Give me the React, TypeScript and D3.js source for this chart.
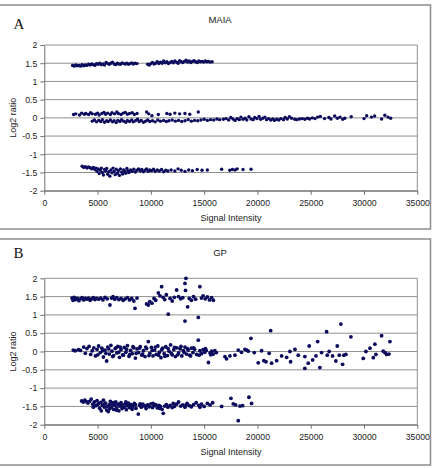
import React, { useEffect, useRef } from 'react';
import * as d3 from 'd3';

// axis ticks
const xTicks = [0, 5000, 10000, 15000, 20000, 25000, 30000, 35000];
const yTicks = [-2, -1.5, -1, -0.5, 0, 0.5, 1, 1.5, 2];

// MAIA: [signal intensity, log2 ratio]
const maiaHigh = [
  [2650, 1.44], [2800, 1.42], [2950, 1.45], [3100, 1.43], [3250, 1.44], [3400, 1.42], [3550, 1.46], [3700, 1.43],
  [3850, 1.45], [4000, 1.44], [4150, 1.47], [4300, 1.45], [4450, 1.48], [4600, 1.46], [4750, 1.44], [4900, 1.49],
  [5050, 1.47], [5200, 1.5], [5350, 1.46], [5500, 1.48], [5650, 1.45], [5800, 1.52], [5950, 1.49], [6100, 1.47],
  [6250, 1.5], [6400, 1.53], [6550, 1.48], [6700, 1.46], [6850, 1.5], [7000, 1.48], [7150, 1.47], [7300, 1.51],
  [7450, 1.49], [7600, 1.48], [7750, 1.5], [7900, 1.47], [8050, 1.49], [8200, 1.51], [8350, 1.48], [8500, 1.5],
  [8700, 1.49], [9700, 1.47], [9850, 1.45], [10000, 1.49], [10150, 1.52], [10300, 1.48], [10450, 1.5], [10600, 1.54],
  [10750, 1.49], [10900, 1.53], [11050, 1.5], [11200, 1.56], [11350, 1.51], [11500, 1.54], [11650, 1.49], [11800, 1.52],
  [11950, 1.55], [12100, 1.51], [12250, 1.56], [12400, 1.53], [12550, 1.5], [12700, 1.57], [12850, 1.54], [13000, 1.52],
  [13150, 1.55], [13300, 1.58], [13450, 1.53], [13600, 1.56], [13750, 1.52], [13900, 1.55], [14050, 1.57], [14200, 1.54],
  [14350, 1.52], [14500, 1.56], [14650, 1.54], [14800, 1.55], [14950, 1.53], [15100, 1.56], [15250, 1.54], [15400, 1.55],
  [15550, 1.53], [15750, 1.54],
];

const maiaMid = [
  [2750, 0.09], [2950, 0.11], [3300, 0.08], [3500, 0.13], [3750, 0.1], [3900, 0.12], [4150, 0.09], [4350, 0.14],
  [4500, 0.11], [4800, 0.1], [5000, 0.13], [5150, 0.08], [5400, 0.12], [5600, 0.15], [5750, 0.1], [5950, 0.13],
  [6200, 0.09], [6350, 0.14], [6600, 0.11], [6800, 0.16], [6950, 0.12], [7200, 0.09], [7400, 0.13], [7600, 0.15],
  [7800, 0.1], [8000, 0.12], [8250, 0.14], [8450, 0.09], [8700, 0.12], [9600, 0.16], [9800, 0.11], [10100, 0.06],
  [10700, 0.09], [11500, 0.12], [11800, 0.1], [12250, 0.13], [12700, 0.11], [13200, 0.12], [13650, 0.1], [14450, 0.16],
  [4500, -0.09], [4700, -0.06], [4900, -0.11], [5100, -0.07], [5300, -0.1], [5450, -0.05], [5650, -0.12], [5850, -0.08],
  [6000, -0.1], [6200, -0.06], [6400, -0.11], [6550, -0.08], [6750, -0.13], [6900, -0.07], [7100, -0.1], [7250, -0.05],
  [7450, -0.09], [7650, -0.12], [7800, -0.07], [8000, -0.1], [8200, -0.06], [8350, -0.11], [8550, -0.08], [8750, -0.04],
  [8900, -0.1], [9100, -0.07], [9300, -0.12], [9500, -0.09], [9700, -0.06], [9900, -0.1], [10150, -0.08], [10400, -0.11],
  [10650, -0.06], [10900, -0.09], [11200, -0.07], [11450, -0.1], [11700, -0.08], [12000, -0.06], [12300, -0.09], [12600, -0.07],
  [12900, -0.1], [13200, -0.08], [13500, -0.05], [13800, -0.09], [14100, -0.07], [14400, -0.08], [14700, -0.06], [15000, -0.04],
  [15300, -0.07], [15600, -0.05], [15900, -0.06], [16200, -0.03], [16450, -0.05],
  [16800, -0.04], [17050, -0.02], [17300, -0.06], [17500, 0.01], [17700, -0.03], [17900, -0.07], [18100, -0.02], [18300, -0.05],
  [18450, 0.02], [18650, -0.04], [18850, -0.01], [19000, -0.06], [19200, 0.03], [19400, -0.03], [19600, -0.05], [19750, 0.01],
  [19950, -0.02], [20150, 0.04], [20300, -0.04], [20500, -0.01], [20700, 0.02], [20850, -0.05], [21050, -0.02], [21250, -0.06],
  [21450, -0.03], [21600, -0.07], [21800, -0.04], [22000, -0.06], [22200, -0.02], [22450, -0.05], [22600, 0.01], [22800, -0.03],
  [23000, 0.03], [23200, -0.01], [23500, -0.04], [23700, -0.05], [23950, -0.03], [24200, -0.02], [24450, -0.04], [24700, -0.01],
  [24900, -0.03], [25150, 0], [25400, -0.02], [25650, 0.02], [25900, 0.04], [26300, -0.02], [26700, 0.01], [26900, -0.03],
  [27250, 0.05], [27500, -0.01], [27750, 0.02], [28000, -0.04], [28200, -0.01], [28800, 0.03], [30000, -0.02], [30250, 0.06],
  [30700, 0.02], [31000, 0.05], [31650, -0.03], [31950, 0.07], [32250, 0.02], [32500, -0.01],
];

const maiaLow = [
  [3550, -1.33], [3700, -1.36], [3850, -1.34], [4000, -1.38], [4150, -1.35], [4300, -1.37], [4450, -1.4], [4600, -1.36],
  [4750, -1.42], [4850, -1.38], [4950, -1.47], [5050, -1.4], [5150, -1.53], [5250, -1.44], [5350, -1.38], [5450, -1.5],
  [5550, -1.57], [5650, -1.42], [5750, -1.46], [5850, -1.39], [5950, -1.55], [6050, -1.48], [6150, -1.6], [6250, -1.43],
  [6350, -1.51], [6450, -1.38], [6550, -1.47], [6650, -1.56], [6750, -1.41], [6850, -1.52], [6950, -1.45], [7050, -1.58],
  [7150, -1.4], [7250, -1.49], [7350, -1.54], [7450, -1.43], [7550, -1.47], [7650, -1.52], [7750, -1.39], [7850, -1.46],
  [7950, -1.5], [8100, -1.43], [8250, -1.47], [8400, -1.41], [8550, -1.49], [8700, -1.44], [8850, -1.4], [9000, -1.46],
  [9150, -1.42], [9300, -1.48], [9450, -1.44], [9600, -1.4], [9750, -1.47], [9900, -1.43], [10050, -1.45], [10250, -1.41],
  [10400, -1.47], [10600, -1.43], [10800, -1.46], [11000, -1.42], [11200, -1.48], [11400, -1.44], [11600, -1.46], [11900, -1.43],
  [12250, -1.46], [12550, -1.4], [12850, -1.44], [13200, -1.47], [13550, -1.43], [13900, -1.45], [14350, -1.42], [14800, -1.44],
  [15300, -1.43], [16640, -1.41], [17400, -1.44], [17650, -1.42], [17900, -1.43], [18100, -1.4], [18650, -1.42], [19400, -1.41],
];

// GP
const gpHigh = [
  [2600, 1.46], [2700, 1.4], [2800, 1.48], [2950, 1.42], [3100, 1.45], [3250, 1.39], [3400, 1.44], [3550, 1.47],
  [3700, 1.41], [3850, 1.45], [4000, 1.43], [4150, 1.46], [4300, 1.4], [4450, 1.44], [4600, 1.47], [4750, 1.42],
  [4900, 1.45], [5100, 1.43], [5300, 1.46], [5500, 1.41], [5700, 1.48], [5900, 1.44], [6160, 1.27], [6300, 1.46],
  [6450, 1.5], [6600, 1.43], [6800, 1.47], [7000, 1.42], [7200, 1.45], [7400, 1.4], [7600, 1.44], [7800, 1.47],
  [8000, 1.41], [8200, 1.45], [8400, 1.38], [8510, 1.18], [8700, 1.46], [9600, 1.3], [9760, 1.27], [9900, 1.36],
  [10100, 1.32], [10300, 1.45], [10450, 1.4], [10700, 1.6], [10850, 1.52], [11010, 1.77], [11150, 1.48], [11300, 1.42],
  [11450, 1.55], [11630, 1.02], [11800, 1.45], [12000, 1.38], [12200, 1.48], [12420, 1.68], [12600, 1.5], [12800, 1.44],
  [13000, 1.47], [13200, 1.86], [13290, 2.0], [13200, 0.83], [13250, 1.67], [13450, 1.22], [13600, 1.45], [13800, 1.4],
  [14000, 1.5], [14200, 1.43], [14450, 0.93], [14600, 1.77], [14750, 1.46], [14900, 1.52], [15100, 1.44], [15300, 1.49],
  [15500, 1.41], [15700, 1.47], [15860, 1.4],
];

const gpMid = [
  [2720, 0.04], [2900, 0.02], [3200, 0.05], [3400, 0.03], [3700, 0.12], [3850, -0.05], [4000, 0.08], [4200, 0.14],
  [4350, -0.08], [4500, 0.02], [4650, 0.1], [4800, -0.12], [4950, 0.06], [5100, 0.15], [5250, -0.03], [5400, 0.09],
  [5550, -0.15], [5700, 0.04], [5850, -0.26], [5950, 0.12], [6100, -0.07], [6250, 0.17], [6350, 0.01], [6500, -0.11],
  [6650, 0.08], [6800, -0.04], [6900, 0.14], [7050, -0.16], [7200, 0.05], [7350, -0.09], [7500, 0.11], [7650, -0.02],
  [7800, 0.16], [7950, -0.13], [8100, 0.03], [8250, -0.06], [8400, 0.1], [8550, -0.18], [8700, 0.07], [8850, -0.03],
  [9000, 0.13], [9150, -0.1], [9300, 0.02], [9450, -0.14], [9600, 0.08], [9760, 0.27], [9900, -0.05], [10050, 0.11],
  [10200, -0.12], [10350, 0.04], [10500, -0.08], [10650, 0.15], [10800, -0.02], [10950, -0.17], [11100, 0.09], [11250, -0.06],
  [11400, 0.13], [11550, -0.11], [11700, 0.01], [11850, 0.18], [12000, -0.09], [12150, 0.05], [12300, -0.14], [12450, 0.1],
  [12600, -0.04], [12750, 0.07], [12900, -0.12], [13050, 0.02], [13200, 0.12], [13350, -0.07], [13500, 0.04], [13650, -0.1],
  [13800, 0.09], [13950, -0.03], [14100, 0.06], [14300, -0.08], [14450, 0.31], [14600, 0.02], [14750, -0.06], [14900, 0.05],
  [15050, -0.02], [15200, 0.03], [15400, -0.3], [15550, -0.04], [15700, 0.01], [15850, -0.07], [16000, 0.02], [16150, -0.03],
  [5020, -0.09], [5480, 0.02], [5780, -0.05], [6050, 0.07], [6420, -0.14], [6720, 0.1], [6980, -0.02], [7120, 0.12],
  [7420, -0.1], [7720, 0.06], [8020, -0.08], [8320, 0.13], [8620, -0.05], [8920, 0.09], [9220, -0.07], [9520, 0.12],
  [9820, -0.11], [10120, 0.03], [10420, 0.12], [10720, -0.1], [11020, 0.05], [11320, -0.13], [11620, 0.08], [11920, -0.05],
  [12220, 0.11], [12520, -0.09], [12820, 0.14], [13120, -0.03], [13420, 0.08], [13720, -0.12], [14020, 0.1], [14520, -0.1],
  [15120, 0.08], [15620, -0.09],
  [16950, -0.14], [17100, -0.2], [17420, -0.12], [17890, -0.1], [18200, 0.04], [18500, -0.02], [18830, 0.06], [18990, 0.04],
  [19140, 0.01], [19390, 0.36], [19700, -0.03], [20070, -0.31], [20390, 0.02], [20600, -0.25], [20800, -0.28], [21100, -0.05],
  [21240, 0.57], [21330, -0.32], [21800, -0.25], [22270, -0.12], [22740, -0.16], [23050, 0], [23110, -0.28], [23520, 0.06],
  [23830, -0.1], [24450, -0.14], [24450, -0.46], [24770, -0.32], [24860, 0.15], [25180, -0.23], [25490, -0.12], [25650, 0.27],
  [25860, -0.44], [26020, -0.03], [26490, 0.54], [26550, -0.1], [26730, 0], [27050, -0.12], [27360, -0.26], [27490, 0.15],
  [27680, -0.1], [27830, 0.75], [27990, -0.35], [28110, -0.1], [28300, -0.08], [28770, 0.4], [29930, -0.19], [30180, 0],
  [30560, 0.09], [30870, -0.17], [31020, 0.2], [31120, -0.08], [31650, 0.43], [31800, 0.01], [31960, -0.03], [32120, -0.08],
  [32340, -0.07], [32430, 0.27],
];

const gpLow = [
  [3500, -1.35], [3650, -1.38], [3800, -1.33], [3950, -1.37], [4100, -1.41], [4250, -1.36], [4400, -1.3], [4550, -1.44],
  [4700, -1.38], [4850, -1.48], [4950, -1.34], [5100, -1.42], [5200, -1.55], [5300, -1.39], [5450, -1.47], [5550, -1.33],
  [5650, -1.52], [5750, -1.41], [5850, -1.6], [6000, -1.64], [6100, -1.45], [6200, -1.36], [6300, -1.51], [6400, -1.42],
  [6500, -1.58], [6600, -1.47], [6700, -1.38], [6800, -1.54], [6900, -1.44], [7000, -1.62], [7100, -1.49], [7200, -1.4],
  [7300, -1.56], [7400, -1.46], [7500, -1.52], [7600, -1.43], [7700, -1.59], [7800, -1.48], [7900, -1.41], [8000, -1.53],
  [8150, -1.45], [8300, -1.5], [8450, -1.42], [8600, -1.55], [8820, -1.71], [8950, -1.47], [9100, -1.52], [9250, -1.44],
  [9400, -1.49], [9550, -1.56], [9700, -1.46], [9850, -1.51], [10000, -1.43], [10150, -1.53], [10300, -1.48], [10450, -1.45],
  [10600, -1.54], [10750, -1.47], [10900, -1.5], [11050, -1.58], [11160, -1.69], [11300, -1.49], [11450, -1.45], [11600, -1.52],
  [11800, -1.47], [12000, -1.53], [12200, -1.5], [12400, -1.44], [12600, -1.38], [12800, -1.49], [13000, -1.46], [13200, -1.52],
  [13400, -1.42], [13600, -1.48], [13800, -1.51], [14000, -1.45], [14250, -1.4], [14500, -1.47], [14750, -1.44], [15000, -1.5],
  [15300, -1.42], [15550, -1.46], [15800, -1.4], [16640, -1.5], [17510, -1.28], [17730, -1.43], [17950, -1.46], [18200, -1.89],
  [18360, -1.49], [18610, -1.48], [19200, -1.25], [19450, -1.42],
  [4600, -1.52], [5000, -1.46], [5350, -1.62], [5600, -1.44], [5900, -1.5], [6150, -1.56], [6450, -1.4], [6750, -1.6],
  [7050, -1.44], [7350, -1.5], [7650, -1.38], [7950, -1.46], [8250, -1.58], [8550, -1.45], [9000, -1.43], [9600, -1.48],
  [10200, -1.42], [10800, -1.55], [12100, -1.42], [13300, -1.46], [14600, -1.52],
];

const panels = [
  { letter: 'A', title: 'MAIA', frameTop: 5, frameBottom: 229, top: 45, bottom: 190.7, letterY: 29, titleY: 22.5, points: [maiaHigh, maiaMid, maiaLow], r: 1.7 },
  { letter: 'B', title: 'GP', frameTop: 239, frameBottom: 465, top: 278.3, bottom: 424.7, letterY: 258.3, titleY: 255.5, points: [gpHigh, gpMid, gpLow], r: 1.9 },
];

const font = '"Liberation Sans", Arial, sans-serif';
const left = 44.3;
const right = 417.3;

const App = () => {
  const ref = useRef(null);

  useEffect(() => {
    const svg = d3.select(ref.current);
    svg.selectAll('*').remove();

    const x = d3.scaleLinear().domain([0, 35000]).range([left, right]);

    panels.forEach(p => {
      const y = d3.scaleLinear().domain([-2, 2]).range([p.bottom, p.top]);
      const g = svg.append('g');

      // outer chart frame
      g.append('rect')
        .attr('x', -3)
        .attr('y', p.frameTop)
        .attr('width', 433.5)
        .attr('height', p.frameBottom - p.frameTop)
        .attr('fill', 'white')
        .attr('stroke', '#8c8c8c')
        .attr('stroke-width', 1.5);

      // gridlines
      g.selectAll('.grid')
        .data(yTicks)
        .enter()
        .append('line')
        .attr('x1', left)
        .attr('x2', right)
        .attr('y1', d => y(d))
        .attr('y2', d => y(d))
        .attr('stroke', '#909090')
        .attr('stroke-width', 1);

      // plot area right edge
      g.append('line')
        .attr('x1', right).attr('x2', right)
        .attr('y1', p.top).attr('y2', p.bottom)
        .attr('stroke', '#909090');

      // y axis
      const ya = g.append('g')
        .attr('transform', `translate(${left},0)`)
        .call(d3.axisLeft(y).tickValues(yTicks).tickSize(4).tickSizeOuter(0).tickPadding(3).tickFormat(d => String(d)));
      ya.select('.domain').attr('stroke', '#707070');
      ya.selectAll('line').attr('stroke', '#707070');
      ya.selectAll('text').style('font-family', font).style('font-size', '8.7px').attr('fill', '#222');

      // x axis
      const xa = g.append('g')
        .attr('transform', `translate(0,${p.bottom})`)
        .call(d3.axisBottom(x).tickValues(xTicks).tickSize(4).tickSizeOuter(0).tickPadding(5).tickFormat(d => String(d)));
      xa.select('.domain').attr('stroke', '#707070');
      xa.selectAll('line').attr('stroke', '#707070');
      xa.selectAll('text').style('font-family', font).style('font-size', '8.7px').attr('fill', '#222');

      // points
      p.points.forEach(set => {
        g.selectAll(null)
          .data(set)
          .enter()
          .append('circle')
          .attr('cx', d => x(d[0]))
          .attr('cy', d => y(d[1]))
          .attr('r', p.r)
          .attr('fill', '#0b0b5e');
      });

      // panel letter
      g.append('text')
        .attr('x', 13.5)
        .attr('y', p.letterY)
        .style('font-family', '"Liberation Serif", "Times New Roman", serif')
        .style('font-size', '15px')
        .attr('fill', '#111')
        .text(p.letter);

      // title
      g.append('text')
        .attr('x', 220)
        .attr('y', p.titleY)
        .attr('text-anchor', 'middle')
        .style('font-family', font)
        .style('font-size', '9.5px')
        .attr('fill', '#222')
        .text(p.title);

      // axis titles
      g.append('text')
        .attr('x', 231)
        .attr('y', p.bottom + 30)
        .attr('text-anchor', 'middle')
        .style('font-family', font)
        .style('font-size', '9px')
        .attr('fill', '#222')
        .text('Signal Intensity');

      g.append('text')
        .attr('transform', `translate(15.5,${(p.top + p.bottom) / 2}) rotate(-90)`)
        .attr('text-anchor', 'middle')
        .style('font-family', font)
        .style('font-size', '9px')
        .attr('fill', '#222')
        .text('Log2 ratio');
    });
  }, []);

  return (
    <svg
      ref={ref}
      width={438}
      height={469}
      style={{ position: 'absolute', left: 0, top: 0, background: '#fff' }}
    />
  );
};

export default App;
